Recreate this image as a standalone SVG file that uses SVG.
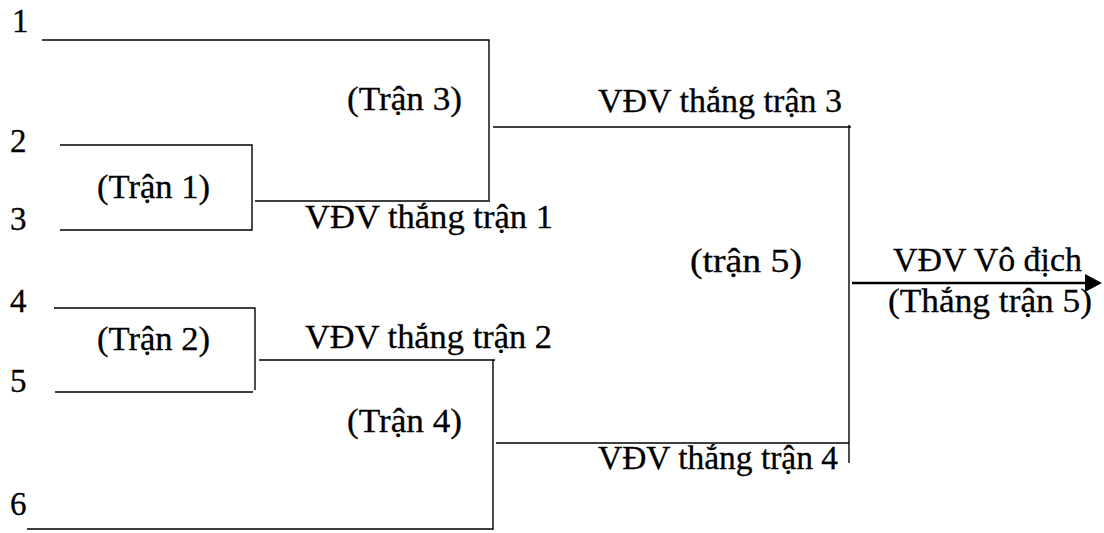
<svg xmlns="http://www.w3.org/2000/svg" width="1104" height="533" viewBox="0 0 1104 533">
  <style>
    .t { font-family: 'Liberation Serif', 'Times New Roman', Times, serif; font-size: 33px; fill: #000; stroke: #000; stroke-width: 0.3; }
    .ln { stroke: #000; stroke-width: 1.4; fill: none; }
    .arr { stroke: #000; stroke-width: 2.6; fill: none; }
  </style>
  <rect width="1104" height="533" fill="#fff"/>

  <g id="connectors">
    <path class="ln" d="M42,40 H489 V200"/>
    <path class="ln" d="M60,145 H252 V230 H60"/>
    <path class="ln" d="M255,201 H490"/>
    <path class="ln" d="M493,127 H851"/>
    <path class="ln" d="M849,125 V463"/>
    <path class="ln" d="M54,308 H255 V390"/>
    <path class="ln" d="M55,392 H253"/>
    <path class="ln" d="M259,360 H495"/>
    <path class="ln" d="M493,360 V530"/>
    <path class="ln" d="M27,529 H493"/>
    <path class="ln" d="M496,443 H849"/>
    <path class="arr" d="M852,283 H1088"/>
    <polygon points="1085,274 1102,283 1085,292" fill="#000"/>
  </g>

  <g class="t">
  <g id="player1"><text x="12" y="32">1</text></g>
  <g id="player2"><text x="10" y="152">2</text></g>
  <g id="player3"><text x="10" y="230">3</text></g>
  <g id="player4"><text x="10" y="312">4</text></g>
  <g id="player5"><text x="10" y="392">5</text></g>
  <g id="player6"><text x="10" y="515">6</text></g>

  <g id="match1"><text x="97" y="198" textLength="113" lengthAdjust="spacingAndGlyphs">(Trận 1)</text></g>
  <g id="match2"><text x="97" y="350" textLength="113" lengthAdjust="spacingAndGlyphs">(Trận 2)</text></g>
  <g id="match3"><text x="347" y="110" textLength="115" lengthAdjust="spacingAndGlyphs">(Trận 3)</text></g>
  <g id="match4"><text x="347" y="432" textLength="115" lengthAdjust="spacingAndGlyphs">(Trận 4)</text></g>
  <g id="match5"><text x="690" y="272" textLength="112" lengthAdjust="spacingAndGlyphs">(trận 5)</text></g>

  <g id="winner1"><text x="305" y="228" textLength="248" lengthAdjust="spacingAndGlyphs">VĐV thắng trận 1</text></g>
  <g id="winner2"><text x="305" y="348" textLength="247" lengthAdjust="spacingAndGlyphs">VĐV thắng trận 2</text></g>
  <g id="winner3"><text x="598" y="112" textLength="244" lengthAdjust="spacingAndGlyphs">VĐV thắng trận 3</text></g>
  <g id="winner4"><text x="598" y="469" textLength="240" lengthAdjust="spacingAndGlyphs">VĐV thắng trận 4</text></g>
  <g id="champion">
    <text x="893" y="271" textLength="189" lengthAdjust="spacingAndGlyphs">VĐV Vô địch</text>
    <text x="888" y="312" textLength="204" lengthAdjust="spacingAndGlyphs">(Thắng trận 5)</text>
  </g>
  </g>
</svg>
